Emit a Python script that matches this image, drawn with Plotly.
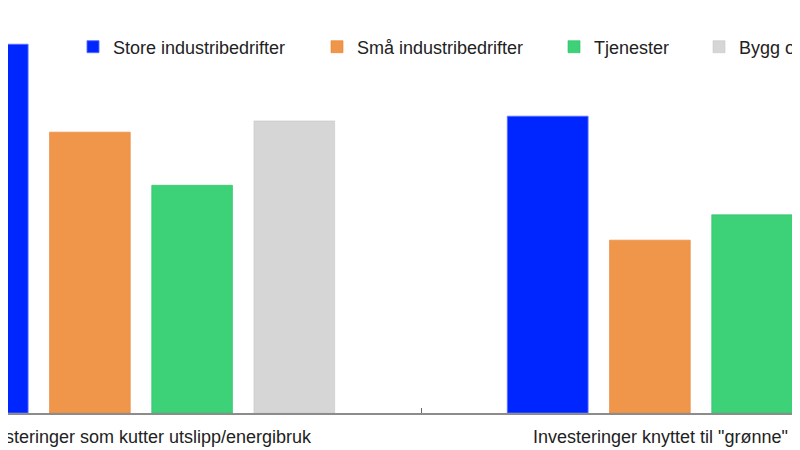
import plotly.graph_objects as go

categories = [
    "Investeringer som kutter utslipp/energibruk",
    'Investeringer knyttet til "grønne" produkter',
]
series_names = [
    "Store industribedrifter",
    "Små industribedrifter",
    "Tjenester",
    "Bygg og anlegg",
]
store = [62.5, 50.3]
smaa = [47.6, 29.3]
tjenester = [38.6, 33.6]
bygg = [49.5, None]  # second bar lies outside the visible window

colors = ["#0026ff", "#f0964b", "#3dd277", "#d6d6d6"]
edges = ["rgba(90,110,255,0.9)", "rgba(230,130,50,0.6)",
         "rgba(40,190,100,0.6)", "rgba(200,200,200,0.6)"]
legend_ids = ["legend", "legend2", "legend3", "legend4"]
# left edge of legend text in window px
legend_text_x = [113, 357, 594, 739]

W, H = 800, 450
off = 8                  # page body margin shifts the figure by 8px
axis_y = 413             # x axis line, window px
plot_h = axis_y - off
bottom = H - plot_h
px_per_unit = 413 / 70

# category centres sit at window px 141 and 701
c0, step = 141, 560
x_range = [(off - c0) / step, (off + W - c0) / step]

fig = go.Figure()
for name, vals, col, edge, lg in zip(series_names, [store, smaa, tjenester, bygg],
                                     colors, edges, legend_ids):
    fig.add_trace(go.Bar(
        x=categories, y=vals, name=name, legend=lg,
        marker=dict(color=col, line=dict(color=edge, width=1)),
    ))

font = dict(family="Liberation Sans, Arial, sans-serif", size=18, color="#222222")
layout_legends = {}
for lg, tx in zip(legend_ids, legend_text_x):
    layout_legends[lg] = dict(
        x=(tx - off - 40) / W, xanchor="left",
        y=1 - (47 - off) / plot_h, yanchor="middle",
        orientation="h", font=font, bgcolor="rgba(0,0,0,0)",
    )

fig.update_layout(
    width=W, height=H,
    margin=dict(l=0, r=0, t=0, b=bottom, autoexpand=False),
    paper_bgcolor="white", plot_bgcolor="white",
    barmode="group", bargap=0.27, bargroupgap=0.21,
    font=font,
    showlegend=True,
    **layout_legends,
)
fig.update_xaxes(
    type="category", range=x_range,
    showline=True, linecolor="#8c8c8c", linewidth=1.5,
    ticks="inside", tickson="boundaries", ticklen=5, tickcolor="#666666",
    showgrid=False, tickfont=font, ticklabelstandoff=7,
)
fig.update_yaxes(visible=False, range=[0, plot_h / px_per_unit], showgrid=False)

fig.write_html("out.html")
